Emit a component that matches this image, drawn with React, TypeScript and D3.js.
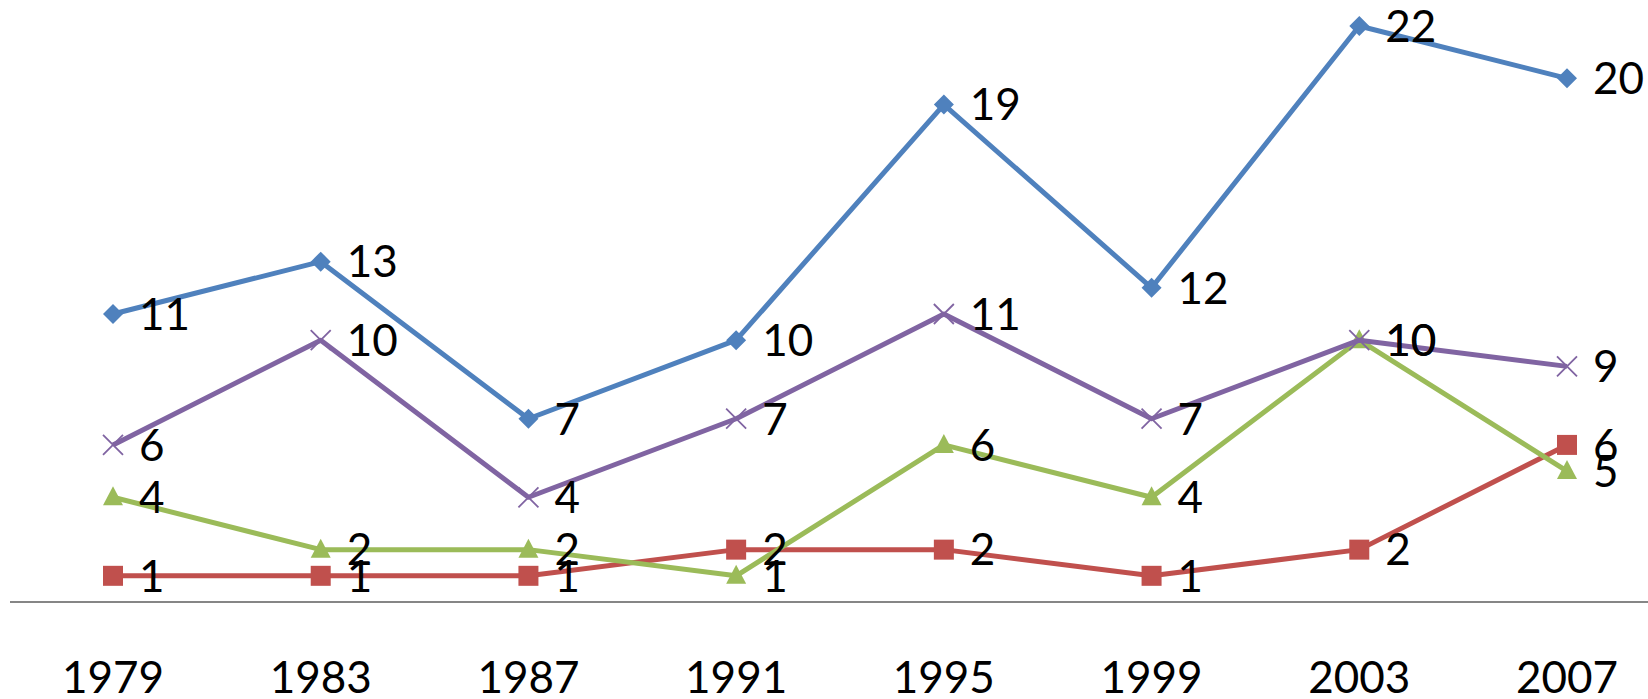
import React, { useEffect, useRef } from "react";
import * as d3 from "d3";

const width = 1648;
const height = 699;

const years = ["1979", "1983", "1987", "1991", "1995", "1999", "2003", "2007"];

const blueValues = [11, 13, 7, 10, 19, 12, 22, 20];
const redValues = [1, 1, 1, 2, 2, 1, 2, 6];
const greenValues = [4, 2, 2, 1, 6, 4, 10, 5];
const purpleValues = [6, 10, 4, 7, 11, 7, 10, 9];

type Series = {
    name: string,
    values: number[],
    color: string,
    marker: "diamond" | "square" | "triangle" | "x"
}

const series: Series[] = [
    { name: "blue", values: blueValues, color: "#4F81BD", marker: "diamond" },
    { name: "red", values: redValues, color: "#C0504D", marker: "square" },
    { name: "green", values: greenValues, color: "#9BBB59", marker: "triangle" },
    { name: "purple", values: purpleValues, color: "#8064A2", marker: "x" },
];

const fontFamily = "Lato, 'Open Sans', sans-serif";

const App = () => {
    const ref = useRef<SVGSVGElement>(null);

    useEffect(() => {
        const svg = d3.select(ref.current);
        svg.selectAll("*").remove();

        const x = d3.scalePoint<string>().domain(years).range([113, 1567]);
        const y = d3.scaleLinear().domain([0, 22]).range([602, 26]);

        // axis line
        svg.append("line")
            .attr("x1", 10)
            .attr("x2", width)
            .attr("y1", y(0))
            .attr("y2", y(0))
            .attr("stroke", "#868686")
            .attr("stroke-width", 2);

        // category labels
        svg.append("g")
            .attr("font-family", fontFamily)
            .attr("font-size", 44)
            .attr("text-anchor", "middle")
            .selectAll("text")
            .data(years)
            .join("text")
            .attr("x", d => x(d)!)
            .attr("y", 693)
            .text(d => d);

        const line = d3.line<number>()
            .x((_, i) => x(years[i])!)
            .y(d => y(d));

        series.forEach(s => {
            const g = svg.append("g");
            g.append("path")
                .attr("d", line(s.values))
                .attr("fill", "none")
                .attr("stroke", s.color)
                .attr("stroke-width", 5)
                .attr("stroke-linejoin", "round");

            const pts = g.selectAll("g.pt")
                .data(s.values)
                .join("g")
                .attr("transform", (d, i) => `translate(${x(years[i])},${y(d)})`);

            if (s.marker === "diamond") {
                pts.append("path")
                    .attr("d", "M0,-10L10,0L0,10L-10,0Z")
                    .attr("fill", s.color);
            } else if (s.marker === "square") {
                pts.append("rect")
                    .attr("x", -10).attr("y", -10)
                    .attr("width", 20).attr("height", 20)
                    .attr("fill", s.color);
            } else if (s.marker === "triangle") {
                pts.append("path")
                    .attr("d", "M0,-11L10,8L-10,8Z")
                    .attr("fill", s.color);
            } else {
                pts.append("path")
                    .attr("d", "M-10,-10L10,10M-10,10L10,-10")
                    .attr("stroke", s.color)
                    .attr("stroke-width", 1.8)
                    .attr("fill", "none");
            }
        });

        // data labels on top
        series.forEach(s => {
            svg.append("g")
                .attr("font-family", fontFamily)
                .attr("font-size", 44)
                .attr("fill", "#000")
                .selectAll("text")
                .data(s.values)
                .join("text")
                .attr("x", (_, i) => x(years[i])! + 26)
                .attr("y", d => y(d))
                .attr("dy", "0.36em")
                .text(d => d);
        });
    }, []);

    return (
        <svg ref={ref} width={width} height={height}
            style={{ position: "absolute", left: 0, top: 0, background: "#fff" }} />
    );
};

export default App;
